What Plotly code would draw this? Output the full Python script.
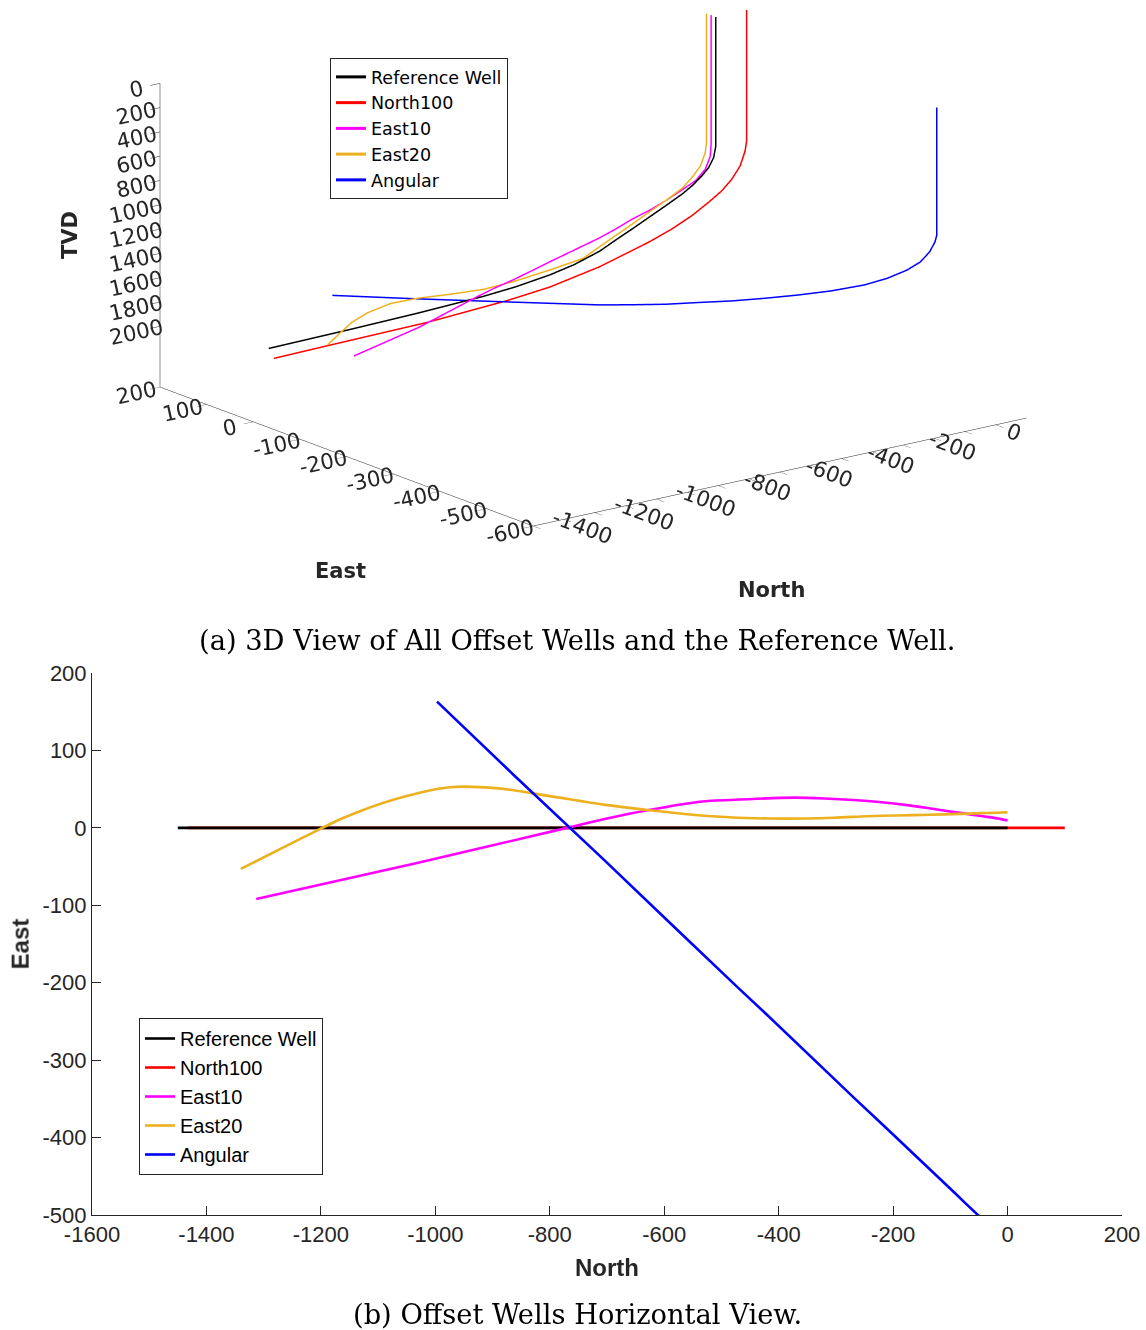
import plotly.graph_objects as go

# ---------------- well trajectories (north, east, true vertical depth) ----------------
ref_north = [0, 0, -7, -23, -45, -77, -109, -162, -216, -270, -323, -377, -460, -538, -650, -753, -967, -1181, -1450]
ref_east = [0] * len(ref_north)
ref_tvd = [0, 1064, 1155, 1228, 1284, 1348, 1398, 1464, 1529, 1594, 1655, 1720, 1785, 1825, 1862, 1882, 1902, 1914, 1924]

n100_north = [100, 100, 95, 79, 52, 20, -23, -77, -141, -216, -291, -377, -538, -677, -935, -1251, -1433]
n100_east = [0] * len(n100_north)
n100_tvd = [0, 1078, 1157, 1271, 1365, 1442, 1513, 1593, 1666, 1733, 1787, 1848, 1925, 1960, 1995, 2007, 2015]

e10_north = [0, 0, -3, -16, -43, -80, -126, -172, -220, -269, -320, -374, -484, -534, -627, -700, -770, -1030, -1313]
e10_east = [10, 10, 10, 12, 15, 19, 24, 29, 33, 36, 38, 39, 36, 34, 23, 12, 0, -45, -92]
e10_tvd = [0, 1065, 1162, 1263, 1347, 1406, 1477, 1540, 1588, 1647, 1697, 1736, 1799, 1828, 1855, 1862, 1871, 1918, 1931]

e20_north = [0, 0, -4, -20, -48, -82, -137, -192, -247, -304, -413, -516, -622, -706, -800, -890, -975, -1075, -1160, -1230, -1340]
e20_east = [20, 20, 20, 19.5, 19, 18, 17, 16, 15, 13, 12, 15, 22.5, 30, 41, 51, 52.5, 36, 13, -12, -53]
e20_tvd = [0, 1065, 1145, 1243, 1322, 1392, 1461, 1524, 1588, 1648, 1777, 1819, 1866, 1893, 1898, 1895, 1893, 1890, 1888, 1886, 1882]

ang_north = [-46, -46, -49, -57, -72, -93, -124, -161, -213, -265, -317, -369, -421, -473, -525, -577, -707, -864, -997]
ang_east = [-504, -504, -502, -496, -486, -471, -449, -424, -387, -351, -314, -278, -241, -205, -168, -132, -40, 69, 163]
ang_tvd = [0, 1053, 1109, 1194, 1283, 1360, 1442, 1512, 1585, 1641, 1692, 1736, 1773, 1810, 1838, 1862, 1899, 1940, 1972]

well_names = ["Reference Well", "North100", "East10", "East20", "Angular"]
well_colors = ["#000000", "#FF0000", "#FF00FF", "#EDB120", "#0000FF"]

# axis ticks
tvd_ticks = [0, 200, 400, 600, 800, 1000, 1200, 1400, 1600, 1800, 2000]
east_ticks_3d = [200, 100, 0, -100, -200, -300, -400, -500, -600]
north_ticks_3d = list(range(-1500, 1, 100))
north_ticks_2d = list(range(-1600, 201, 200))
east_ticks_2d = list(range(-500, 201, 100))


def labels(vals):
    # plain hyphen-minus for negative tick labels
    return [str(v) for v in vals]


def sparse_labels(vals):
    # the north ticks are close together in the 3D view: label every other one
    return [str(v) if v % 200 == 0 else "" for v in vals]


wells = [
    (ref_north, ref_east, ref_tvd),
    (n100_north, n100_east, n100_tvd),
    (e10_north, e10_east, e10_tvd),
    (e20_north, e20_east, e20_tvd),
    (ang_north, ang_east, ang_tvd),
]

fig = go.Figure()

# 3D view: depth is drawn downwards, so the vertical coordinate is -TVD
for (n, e, t), name, col in zip(wells, well_names, well_colors):
    fig.add_trace(go.Scatter3d(
        x=n, y=e, z=[-v for v in t], mode="lines", name=name,
        line=dict(color=col, width=3), scene="scene", legend="legend",
        hoverinfo="skip",
    ))

# plan view: north vs east; North100 is drawn beneath the reference well
draw_order = [1, 0, 2, 3, 4]
for i in draw_order:
    n, e, t = wells[i]
    fig.add_trace(go.Scatter(
        x=n, y=e, mode="lines", name=well_names[i],
        line=dict(color=well_colors[i], width=2.6,
                  shape="spline" if i in (2, 3) else "linear", smoothing=0.8),
        xaxis="x", yaxis="y", legend="legend2", legendrank=i + 1,
        hoverinfo="skip",
    ))

axis_grey = "#262626"
font3d = "DejaVu Sans"
font2d = "Liberation Sans"

# orthographic camera: view direction and a shift of the look-at point;
# the box size (zoom) is set through the aspect ratio
eye_dir = (-0.5832, -0.7605, 0.2855)
eye_r = 6.0
cam_center = (-0.052, 0.040, -0.197)
zoom = 2.012


def axis3d(rng, vals, text):
    return dict(
        title=dict(text=""),
        range=rng, tickvals=vals, ticktext=text, showgrid=False, zeroline=False,
        showbackground=False, showspikes=False, showline=True,
        linecolor=axis_grey, linewidth=1, ticks="outside", tickcolor=axis_grey,
        ticklen=12, tickfont=dict(family=font3d, size=16, color=axis_grey),
    )


def caption(text, ypix):
    return dict(text=text, x=577 / 1146, y=1 - ypix / 1330, xref="paper", yref="paper",
                xanchor="center", yanchor="middle", showarrow=False,
                font=dict(family="DejaVu Serif", size=27.3, color="#000000"))


def title3d(text, xpix, ypix, angle=0):
    return dict(text="<b>%s</b>" % text, x=xpix / 1146, y=1 - ypix / 1330,
                xref="paper", yref="paper", xanchor="center", yanchor="middle",
                showarrow=False, textangle=angle,
                font=dict(family=font3d, size=21, color=axis_grey))


fig.update_layout(
    width=1146, height=1330,
    margin=dict(l=0, r=0, t=0, b=0),
    paper_bgcolor="white", plot_bgcolor="white",
    scene=dict(
        domain=dict(x=[0.0, 1.0], y=[0.535, 1.0]),
        aspectmode="manual",
        aspectratio=dict(x=1.0 * zoom, y=0.9866 * zoom, z=0.5098 * zoom),
        camera=dict(
            eye=dict(x=cam_center[0] + eye_dir[0] * eye_r,
                     y=cam_center[1] + eye_dir[1] * eye_r,
                     z=cam_center[2] + eye_dir[2] * eye_r),
            up=dict(x=0, y=0, z=1),
            center=dict(x=cam_center[0], y=cam_center[1], z=cam_center[2]),
            projection=dict(type="orthographic"),
        ),
        xaxis=axis3d([-1500, 100], north_ticks_3d, sparse_labels(north_ticks_3d)),
        yaxis=axis3d([-600, 200], east_ticks_3d, labels(east_ticks_3d)),
        zaxis=axis3d([-2500, 0], [-v for v in tvd_ticks], labels(tvd_ticks)),
    ),
    xaxis=dict(
        domain=[92 / 1146, 1122 / 1146], range=[-1600, 200],
        tickvals=north_ticks_2d, ticktext=labels(north_ticks_2d),
        showline=True, linecolor=axis_grey, linewidth=1, ticks="inside", ticklen=9,
        tickcolor=axis_grey, showgrid=False, zeroline=False, anchor="y", automargin=False,
        tickfont=dict(family=font2d, size=22, color=axis_grey),
        title=dict(text="<b>North</b>", font=dict(family=font2d, size=24, color=axis_grey), standoff=12),
    ),
    yaxis=dict(
        domain=[1 - 1215 / 1330, 1 - 673 / 1330], range=[-500, 200],
        tickvals=east_ticks_2d, ticktext=labels(east_ticks_2d),
        showline=True, linecolor=axis_grey, linewidth=1, ticks="inside", ticklen=9,
        tickcolor=axis_grey, showgrid=False, zeroline=False, anchor="x", automargin=False,
        tickfont=dict(family=font2d, size=22, color=axis_grey),
        title=dict(text="<b>East</b>", font=dict(family=font2d, size=24, color=axis_grey), standoff=6),
    ),
    legend=dict(
        x=330 / 1146, y=1 - 58 / 1330, xanchor="left", yanchor="top",
        bgcolor="white", bordercolor=axis_grey, borderwidth=1,
        font=dict(family=font3d, size=17.5, color="#000000"),
        tracegroupgap=0, itemwidth=30,
    ),
    legend2=dict(
        x=139 / 1146, y=1 - 1018 / 1330, xanchor="left", yanchor="top",
        bgcolor="white", bordercolor=axis_grey, borderwidth=1,
        font=dict(family=font2d, size=20, color="#000000"),
        tracegroupgap=0, itemwidth=30,
    ),
    annotations=[
        title3d("TVD", 70, 235, -90),
        title3d("East", 340, 571),
        title3d("North", 771, 590),
        caption("(a) 3D View of All Offset Wells and the Reference Well.", 640),
        caption("(b) Offset Wells Horizontal View.", 1314),
    ],
)

fig.write_html("out.html")
